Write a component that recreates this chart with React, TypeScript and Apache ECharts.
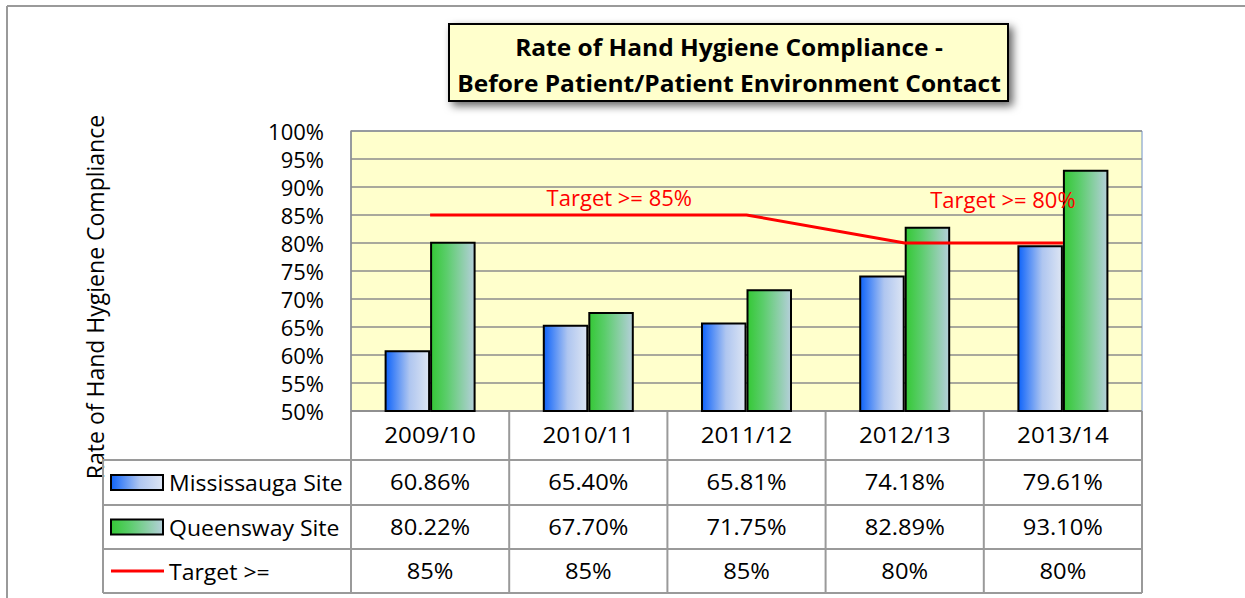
import React, { useEffect, useRef } from "react";
import * as echarts from "echarts";

const categories = ["2009/10", "2010/11", "2011/12", "2012/13", "2013/14"];
const mississauga = [60.86, 65.4, 65.81, 74.18, 79.61];
const queensway = [80.22, 67.7, 71.75, 82.89, 93.1];
const target = [85, 85, 85, 80, 80];
const seriesNames = ["Mississauga Site", "Queensway Site", "Target >="];
const titleLines = ["Rate of Hand Hygiene Compliance -", "Before Patient/Patient Environment Contact"];
const yAxisTitle = "Rate of Hand Hygiene Compliance";

const FONT = "'Open Sans', Lato, sans-serif";

export default function App() {
  const ref = useRef<HTMLDivElement>(null);
  useEffect(() => {
    if (!ref.current) return;
    const chart = echarts.init(ref.current, null, { renderer: "svg" });

    const gL = 351, gT = 131, gW = 791, gH = 280;
    const cw = gW / categories.length;
    const rows = [411, 460, 505, 549, 593];
    const legL = 103;
    const gray = "#9a9a9a";

    const blueGrad = new echarts.graphic.LinearGradient(0, 0, 1, 0, [
      { offset: 0, color: "#0F64FA" },
      { offset: 0.55, color: "#AFC6F0" },
      { offset: 1, color: "#DDE5F3" },
    ]);
    const greenGrad = new echarts.graphic.LinearGradient(0, 0, 1, 0, [
      { offset: 0, color: "#35C836" },
      { offset: 0.35, color: "#5ACD6A" },
      { offset: 1, color: "#B5CFDA" },
    ]);

    const txt = (text: string, x: number, y: number, size: number, sx: number, align = "center", bold = false, extra: any = {}) => ({
      type: "text", x, y, scaleX: sx, ...extra,
      style: { text, fill: "#000", font: `${bold ? "bold " : ""}${size}px ${FONT}`, align, verticalAlign: "middle" },
    });

    const g: any[] = [];
    g.push({ type: "line", shape: { x1: 7, y1: 6, x2: 7, y2: 598 }, style: { stroke: gray, lineWidth: 2 } });
    g.push({ type: "line", shape: { x1: 7, y1: 6, x2: 1245, y2: 6 }, style: { stroke: gray, lineWidth: 2 } });
    g.push({
      type: "rect",
      shape: { x: 449, y: 24, width: 559, height: 77 },
      style: {
        fill: "#FFFFCC", stroke: "#000", lineWidth: 2,
        shadowBlur: 8, shadowOffsetX: 4, shadowOffsetY: 4, shadowColor: "rgba(0,0,0,0.6)",
      },
    });
    titleLines.forEach((t, i) => g.push(txt(t, 729, 47 + i * 36, 23, 1.065, "center", true)));
    g.push({
      type: "text", x: 95, y: 297, rotation: Math.PI / 2,
      style: { text: yAxisTitle, fill: "#000", font: `23px ${FONT}`, align: "center", verticalAlign: "middle" },
    });
    const right = gL + gW;
    g.push({ type: "line", shape: { x1: gL, y1: rows[0], x2: right, y2: rows[0] }, style: { stroke: gray, lineWidth: 2 } });
    for (let r = 1; r < rows.length; r++) {
      g.push({ type: "line", shape: { x1: legL, y1: rows[r], x2: right, y2: rows[r] }, style: { stroke: gray, lineWidth: 2 } });
    }
    g.push({ type: "line", shape: { x1: legL, y1: rows[1], x2: legL, y2: rows[4] }, style: { stroke: gray, lineWidth: 2 } });
    for (let c = 0; c <= categories.length; c++) {
      const x = gL + c * cw;
      g.push({ type: "line", shape: { x1: x, y1: rows[0], x2: x, y2: rows[4] }, style: { stroke: gray, lineWidth: 2 } });
    }
    categories.forEach((c, i) => g.push(txt(c, gL + (i + 0.5) * cw, (rows[0] + rows[1]) / 2, 21, 1.15)));
    const rowVals = [
      mississauga.map((v) => v.toFixed(2) + "%"),
      queensway.map((v) => v.toFixed(2) + "%"),
      target.map((v) => v + "%"),
    ];
    rowVals.forEach((vals, r) => {
      const cy = (rows[r + 1] + rows[r + 2]) / 2;
      vals.forEach((v, i) => g.push(txt(v, gL + (i + 0.5) * cw, cy, 21, 1.13)));
      if (r < 2) {
        g.push({
          type: "rect", shape: { x: 111, y: cy - 7.5, width: 52, height: 15 },
          style: { fill: r === 0 ? blueGrad : greenGrad, stroke: "#000", lineWidth: 2 },
        });
      } else {
        g.push({ type: "line", shape: { x1: 111, y1: cy, x2: 164, y2: cy }, style: { stroke: "#FF0000", lineWidth: 3 } });
      }
      g.push(txt(seriesNames[r], 169, cy, 21, 1.095, "left"));
    });

    const targetData = target.map((v, i) => {
      if (i === 1) {
        return { value: v, label: { show: true, position: "top", distance: 4, offset: [31, -3], formatter: "Target >= " + v + "%" } };
      }
      if (i === 4) {
        return { value: v, label: { show: true, position: "top", distance: 4, offset: [-60, -29], formatter: "Target >= " + v + "%" } };
      }
      return v;
    });

    chart.setOption({
      animation: false,
      textStyle: { fontFamily: FONT },
      grid: {
        left: gL, top: gT, width: gW, height: gH, show: true,
        backgroundColor: "#FFFFCC", borderColor: "#6F90C8", borderWidth: 1,
      },
      xAxis: {
        type: "category", data: categories,
        axisLabel: { show: false }, axisTick: { show: false }, axisLine: { show: false },
      },
      yAxis: {
        type: "value", min: 50, max: 100, interval: 5,
        axisLabel: { formatter: "{value}%", fontSize: 22, color: "#000", margin: 27, fontFamily: FONT },
        axisLine: { show: true, lineStyle: { color: "#8c8c8c", width: 1.5 } },
        axisTick: { show: false },
        splitLine: { lineStyle: { color: "#8c8c8c", width: 1.5 } },
      },
      series: [
        {
          name: seriesNames[0], type: "bar", data: mississauga, barWidth: 45.5, barGap: "0%",
          itemStyle: { color: blueGrad, borderColor: "#000", borderWidth: 2 },
        },
        {
          name: seriesNames[1], type: "bar", data: queensway, barWidth: 45.5,
          itemStyle: { color: greenGrad, borderColor: "#000", borderWidth: 2 },
        },
        {
          name: seriesNames[2], type: "line", data: targetData,
          symbol: "circle", symbolSize: 1, showSymbol: true, z: 5,
          itemStyle: { color: "rgba(255,0,0,0)" },
          lineStyle: { color: "#FF0000", width: 3 },
          label: { show: false, color: "#FF0000", fontSize: 22, fontFamily: FONT },
        },
      ],
      graphic: g,
    });
    return () => chart.dispose();
  }, []);
  return <div ref={ref} style={{ position: "absolute", left: 0, top: 0, width: 1245, height: 598 }} />;
}
